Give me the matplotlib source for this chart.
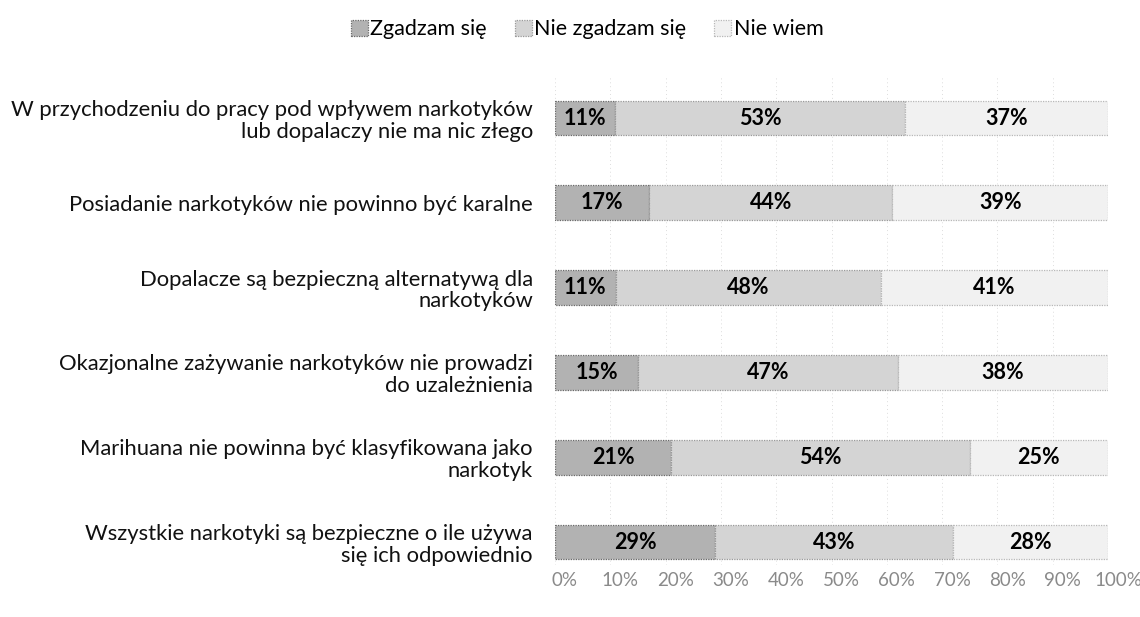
import matplotlib.pyplot as plt
from matplotlib.ticker import FixedLocator
from matplotlib.transforms import ScaledTranslation

plt.rcParams['font.family'] = ['Lato', 'DejaVu Sans']

categories = [
    "W przychodzeniu do pracy pod wpływem narkotyków\nlub dopalaczy nie ma nic złego",
    "Posiadanie narkotyków nie powinno być karalne",
    "Dopalacze są bezpieczną alternatywą dla\nnarkotyków",
    "Okazjonalne zażywanie narkotyków nie prowadzi\ndo uzależnienia",
    "Marihuana nie powinna być klasyfikowana jako\nnarkotyk",
    "Wszystkie narkotyki są bezpieczne o ile używa\nsię ich odpowiednio",
]
series_names = ["Zgadzam się", "Nie zgadzam się", "Nie wiem"]
zgadzam = [11, 17, 11, 15, 21, 29]
nie_zgadzam = [53, 44, 48, 47, 54, 43]
nie_wiem = [37, 39, 41, 38, 25, 28]
tick_labels = ["0%", "10%", "20%", "30%", "40%", "50%", "60%", "70%", "80%", "90%", "100%"]

colors = ["#b2b2b2", "#d4d4d4", "#f1f1f1"]
edges = ["#6a6a6a", "#9a9a9a", "#b8b8b8"]


def main():
    fig = plt.figure(figsize=(11.4, 6.17), dpi=100)
    ax = fig.add_axes([555 / 1140, 1 - 565 / 617, (1108 - 555) / 1140, (565 - 75) / 617])

    rows = list(range(len(categories)))
    data = [zgadzam, nie_zgadzam, nie_wiem]
    totals = [sum(v[i] for v in data) for i in rows]
    left = [0.0] * len(rows)
    for name, vals, c, ec in zip(series_names, data, colors, edges):
        widths = [vals[i] / totals[i] * 100 for i in rows]
        bars = ax.barh(rows, widths, left=left, height=0.41, color=c,
                       edgecolor=ec, linewidth=0.9, linestyle=(0, (1, 1)), label=name)
        for b, v in zip(bars, vals):
            ax.text(b.get_x() + b.get_width() / 2, b.get_y() + b.get_height() / 2,
                    f"{v}%", ha="center", va="center", fontsize=15.5,
                    fontweight="bold", color="black")
        left = [l + w for l, w in zip(left, widths)]

    ax.set_xlim(0, 100)
    ax.set_ylim(5.27, -0.507)
    ax.set_yticks(rows)
    ax.set_yticklabels(categories, fontsize=15.8, color="#111111", linespacing=1.1)
    ax.xaxis.set_major_locator(FixedLocator(range(0, 101, 10)))
    ax.set_xticklabels(tick_labels, fontsize=13.5, color="#8a8a8a")
    ax.tick_params(axis="both", length=0)
    ax.tick_params(axis="y", pad=16)
    ax.tick_params(axis="x", pad=5)
    for lbl in ax.get_xticklabels():
        lbl.set_transform(lbl.get_transform() + ScaledTranslation(0.1, 0, fig.dpi_scale_trans))
    ax.grid(axis="x", color="#dddddd", linestyle=(0, (1, 3)), linewidth=0.7)
    ax.set_axisbelow(True)
    for s in ax.spines.values():
        s.set_visible(False)

    fig.legend(loc="upper center", bbox_to_anchor=(0.515, 1.0), ncol=3, frameon=False,
               fontsize=15.5, handlelength=0.8, handleheight=0.8, handletextpad=0.1,
               columnspacing=1.3)

    fig.savefig("out.png", dpi=100)


if __name__ == "__main__":
    main()
